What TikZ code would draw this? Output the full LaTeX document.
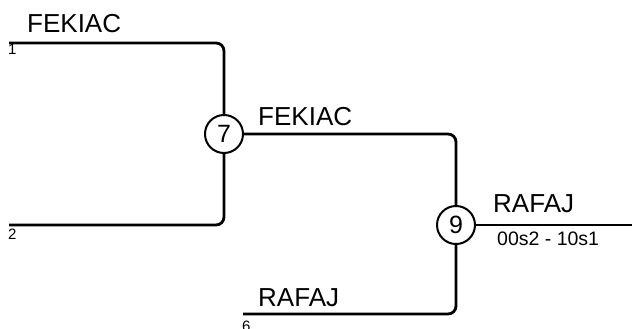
\documentclass[tikz,border=0pt]{standalone}
\usepackage{fontspec}
\setmainfont{Liberation Sans}
\begin{document}
\begin{tikzpicture}[x=1pt,y=-1pt,
  wire/.style={line width=2.8pt,rounded corners=8pt,line cap=butt},
  game/.style={circle,draw,line width=2pt,minimum size=38pt,inner sep=0pt,font=\fontsize{25}{25}\selectfont},
  team/.style={anchor=base west,inner sep=0pt,font=\fontsize{26}{26}\selectfont},
  seed/.style={anchor=base west,inner sep=0pt,font=\fontsize{15}{15}\selectfont},
  score/.style={anchor=base west,inner sep=0pt,font=\fontsize{19.5}{19.5}\selectfont}]
\useasboundingbox (0,0) rectangle (632,329);
\node[game] (g7) at (224,134) {7};
\node[game] (g9) at (456,225) {9};
\coordinate (s1) at (9,43);
\coordinate (s2) at (9,225);
\coordinate (s6) at (243,314);
\coordinate (out) at (632,225);
\draw[wire] (s1) -- (g7.north |- s1) -- (g7.north);
\draw[wire] (s2) -- (g7.south |- s2) -- (g7.south);
\draw[wire] (g7.east) -- (g9.north |- g7.east) -- (g9.north);
\draw[wire] (s6) -- (g9.south |- s6) -- (g9.south);
\draw[wire] (g9.east) -- (out);
\node[team] (t1) at (27,33) {FEKIAC};
\node[seed] (n1) at (8,55) {1};
\node[seed] (n2) at (8,239) {2};
\node[team] (t7) at (258,125) {FEKIAC};
\node[team] (t9) at (493,212) {RAFAJ};
\node[score] (sc) at (497,245) {00s2 - 10s1};
\node[team] (t6) at (258,306) {RAFAJ};
\node[seed] (n6) at (242,331) {6};
\end{tikzpicture}
\end{document}
